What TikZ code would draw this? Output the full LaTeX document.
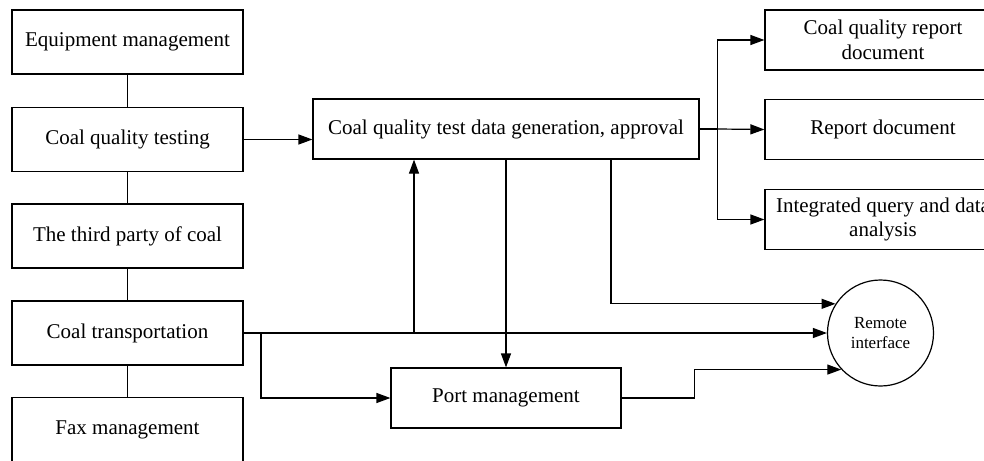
\documentclass[tikz,border=0pt]{standalone}
\usepackage{fontspec}
\setmainfont{Liberation Serif}
\usetikzlibrary{arrows.meta,calc}
\begin{document}
\begin{tikzpicture}[x=1pt,y=-1pt,
  line width=1.2pt,
  box/.style={draw, line width=1.2pt, inner sep=0pt, align=center, font=\fontsize{21}{24.5}\selectfont},
  lbox/.style={box, minimum width=231pt, minimum height=64pt},
  rbox/.style={box, minimum width=236pt, minimum height=60pt},
  arr/.style={-{Triangle[length=14pt,width=10pt]}},
]
\useasboundingbox (0,0) rectangle (984,460);
\node[lbox] (eq) at (127.5,42) {Equipment management};
\node[lbox] (cqt) at (127.5,139.5) {Coal quality testing};
\node[lbox] (tp) at (127.5,236) {The third party of coal};
\node[lbox] (ct) at (127.5,333) {Coal transportation};
\node[lbox] (fax) at (127.5,429.5) {Fax management};
\node[box, minimum width=386pt, minimum height=60pt] (gen) at (506,129) {Coal quality test data generation, approval};
\node[rbox] (r1) at (883,40) {Coal quality report\\document};
\node[rbox] (r2) at (883,129.5) {Report document};
\node[rbox] (r3) at (883,219.5) {Integrated query and data\\analysis};
\node[box, minimum width=230pt, minimum height=60pt] (port) at (506,398) {Port management};
\node[circle, draw, minimum size=106pt, inner sep=0pt, align=center, font=\fontsize{17}{20}\selectfont] (ri) at (880.5,333) {Remote\\interface};

\draw (eq.south) -- (cqt.north);
\draw (cqt.south) -- (tp.north);
\draw (tp.south) -- (ct.north);
\draw (ct.south) -- (fax.north);

\draw[arr] (cqt.east) -- (cqt.east -| gen.west);

\coordinate (jr) at ($(gen.east)+(18,0)$);
\draw (gen.east) -- (jr);
\draw[arr] (jr) |- (r1.west);
\draw[arr] (jr) -- (r2.west);
\draw[arr] (jr) |- (r3.west);

\draw[arr] (ct.east) -- (ri.west);
\coordinate (ju) at (414,333);
\draw[arr] (ju) -- (ju |- gen.south);
\coordinate (jp) at (261,333);
\draw[arr] (jp) |- (port.west);

\draw[arr] (gen.south) -- (port.north);
\coordinate (jg) at ($(gen.south)+(105,0)$);
\draw[arr] (jg) |- (ri.147);
\coordinate (jq) at ($(port.east)+(73,0)$);
\draw[arr] (port.east) -- (jq) |- (ri.223);
\end{tikzpicture}
\end{document}
